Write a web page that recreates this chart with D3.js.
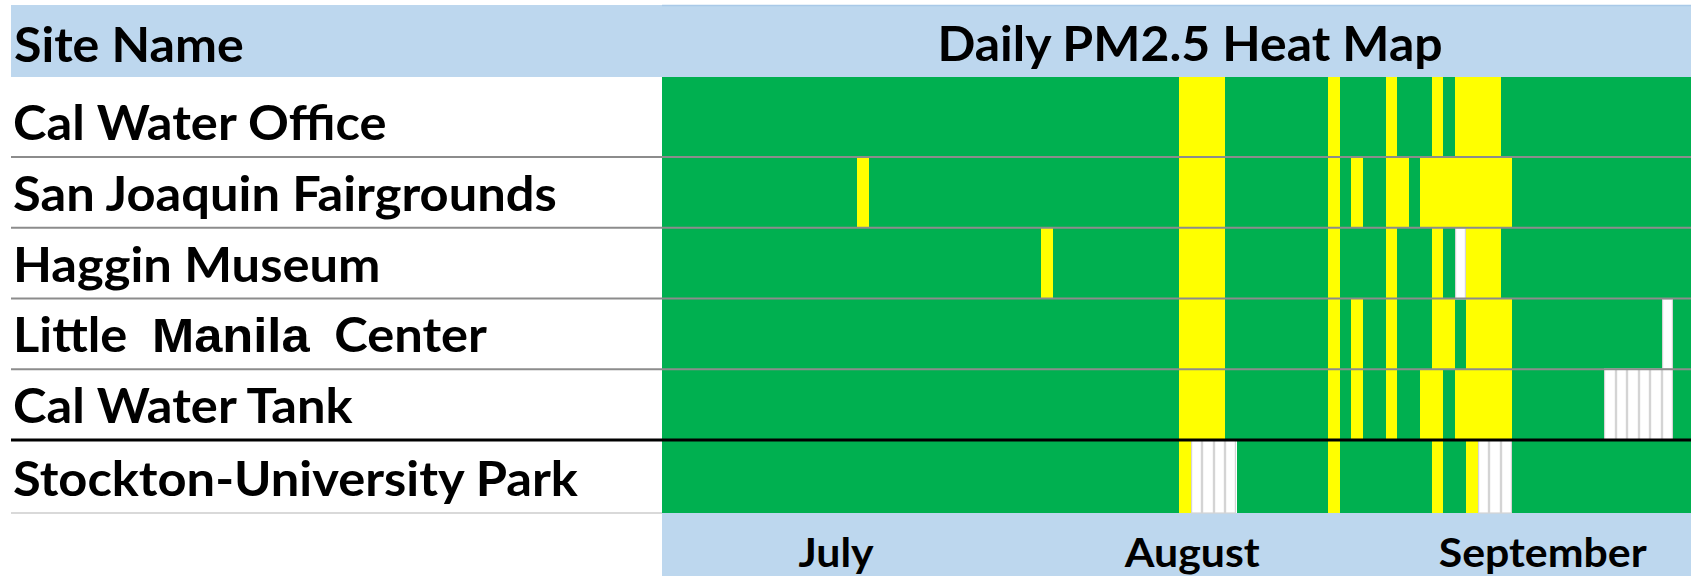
<!DOCTYPE html>
<html><head><meta charset="utf-8">
<script src="https://cdn.jsdelivr.net/npm/d3@7"></script>
<style>
html,body{margin:0;padding:0;background:#fff;overflow:hidden}
svg text{font-family:Lato,"Open Sans",sans-serif;font-weight:700;fill:#000}
svg text .alt{font-family:"Liberation Sans",Arial,sans-serif;font-weight:700}
</style></head><body>
<svg id="chart" width="1691" height="576"></svg>
<script>
// ---------------- data ----------------
const sites = ["Cal Water Office", "San Joaquin Fairgrounds", "Haggin Museum",
               "Little  Manila  Center", "Cal Water Tank", "Stockton-University Park"];
const months = ["July", "August", "September"];
const headerLabels = ["Site Name", "Daily PM2.5 Heat Map"];
const year = 2020;
// Moderate (yellow) days per site, "MM-DD" or "MM-DD/MM-DD" ranges
const moderateDays = [
  ["08-15/08-18", "08-28", "09-02", "09-06", "09-08/09-11"],
  ["07-18", "08-15/08-18", "08-28", "08-30", "09-02/09-03", "09-05/09-12"],
  ["08-03", "08-15/08-18", "08-28", "09-02", "09-06", "09-09/09-11"],
  ["08-15/08-18", "08-28", "08-30", "09-02", "09-06/09-07", "09-09/09-12"],
  ["08-15/08-18", "08-28", "08-30", "09-02", "09-05/09-06", "09-08/09-12"],
  ["08-15", "08-28", "09-06", "09-09"]
];
// Missing data (white) days per site
const missingDays = [
  [], [], ["09-08"], ["09-26"], ["09-21/09-26"], ["08-16/08-19", "09-10/09-12"]
];
const levelColors = {good: "#00B050", moderate: "#FFFF00", missing: "#FFFFFF"};

// ---------------- build table ----------------
const parse = s => { const [m, d] = s.split("-").map(Number); return new Date(year, m - 1, d); };
const fmt = d3.timeFormat("%m-%d");
function expand(list) {
  const set = new Set();
  list.forEach(r => {
    const [a, b] = r.split("/");
    const start = parse(a), end = parse(b || a);
    d3.timeDay.range(start, d3.timeDay.offset(end, 1)).forEach(d => set.add(fmt(d)));
  });
  return set;
}
const days = d3.timeDay.range(new Date(year, 6, 1), new Date(year, 9, 1)).map(fmt);
const cells = [];
sites.forEach((s, i) => {
  const mod = expand(moderateDays[i]), mis = expand(missingDays[i]);
  days.forEach(d => {
    const level = mis.has(d) ? "missing" : mod.has(d) ? "moderate" : "good";
    cells.push({site: s, row: i, day: d, level});
  });
});

// ---------------- layout ----------------
const W = 1691, H = 576;
const plotLeft = 662, dayW = 11.49;
const svg = d3.select("#chart");
const x = d3.scaleBand().domain(days).range([plotLeft, plotLeft + days.length * dayW]).padding(0);
const y = d3.scaleLinear().domain([0, 1, 5, 6]).range([77, 157, 440, 513]);
const x0 = d => Math.round(x(d));
const x1 = d => Math.round(x(d) + x.bandwidth());

// header band
svg.append("rect").attr("x", 11).attr("y", 5).attr("width", W - 11).attr("height", 72).attr("fill", "#BDD7EE");
svg.append("line").attr("x1", plotLeft).attr("x2", W).attr("y1", 5.5).attr("y2", 5.5)
  .attr("stroke", "#A9C9E8").attr("stroke-width", 1.5);
// bottom axis band
svg.append("rect").attr("x", plotLeft).attr("y", y(6)).attr("width", W - plotLeft).attr("height", H - y(6)).attr("fill", "#BDD7EE");

// cells (each overlaps the next by 1px so no seams appear; later cells paint over)
svg.append("g").attr("shape-rendering", "crispEdges")
  .selectAll("rect").data(cells).join("rect")
  .attr("x", d => x0(d.day))
  .attr("y", d => Math.round(y(d.row)))
  .attr("width", d => x1(d.day) - x0(d.day) + 1)
  .attr("height", d => Math.round(y(d.row + 1)) - Math.round(y(d.row)))
  .attr("fill", d => levelColors[d.level]);
// light grey outlines of missing-data cells
svg.append("g").selectAll("rect").data(cells.filter(c => c.level === "missing")).join("rect")
  .attr("x", d => x0(d.day) + 0.6)
  .attr("y", d => Math.round(y(d.row)))
  .attr("width", d => x1(d.day) - x0(d.day) - 1.2)
  .attr("height", d => Math.round(y(d.row + 1)) - Math.round(y(d.row)))
  .attr("fill", "none")
  .attr("stroke", "#D4D4D4")
  .attr("stroke-width", 1.2);

// row separators
const seps = d3.range(1, sites.length + 1);
svg.append("g").selectAll("line").data(seps).join("line")
  .attr("x1", 11)
  .attr("x2", k => k === sites.length ? plotLeft : W)
  .attr("y1", k => y(k)).attr("y2", k => y(k))
  .attr("stroke", k => k === sites.length - 1 ? "#000" : k === sites.length ? "#D9D9D9" : "#8C8C8C")
  .attr("stroke-width", k => k === sites.length - 1 ? 3 : 2);

// ---------------- text ----------------
// stretch text horizontally to mimic the wider original face
function stretch(sel, k) {
  sel.each(function () {
    const w = this.getComputedTextLength();
    d3.select(this).attr("textLength", w * k).attr("lengthAdjust", "spacingAndGlyphs");
  });
}
// header labels
const h1 = svg.append("text").attr("x", 14).attr("y", 62).style("font-size", "48px").text(headerLabels[0]);
const h2 = svg.append("text").attr("x", 1190).attr("y", 61).attr("text-anchor", "middle").style("font-size", "48px").text(headerLabels[1]);
stretch(h1, 1.045);
stretch(h2, 1.04);

// row labels
const rowLabels = svg.append("g").selectAll("text").data(sites).join("text")
  .attr("x", 13)
  .attr("y", (d, i) => y(i + 1) - 17)
  .attr("xml:space", "preserve")
  .style("font-size", "48px");
rowLabels.each(function (d) {
  const t = d3.select(this);
  const parts = d.split(/(Manila)/);
  parts.forEach(p => { if (p) t.append("tspan").attr("class", p === "Manila" ? "alt" : null).text(p); });
});
stretch(rowLabels, 1.055);

// month labels
const monthLabels = svg.append("g").selectAll("text").data(months).join("text")
  .attr("x", (m, i) => {
    const md = days.filter(d => +d.slice(0, 2) === i + 7);
    return (x(md[0]) + x(md[md.length - 1]) + x.bandwidth()) / 2 - 4;
  })
  .attr("y", 567)
  .attr("text-anchor", "middle")
  .style("font-size", "40px")
  .text(m => m);
stretch(monthLabels, 1.07);
</script>
</body></html>
